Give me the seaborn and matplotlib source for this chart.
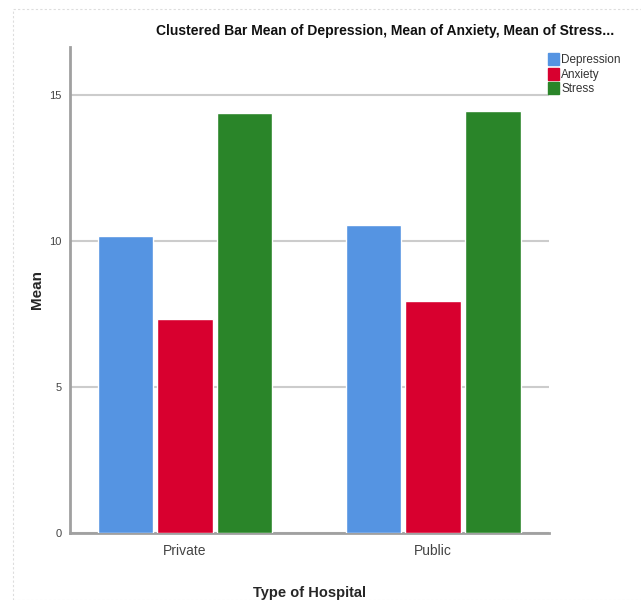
import pandas as pd
import matplotlib.pyplot as plt
import matplotlib.patches as mpatches
import seaborn as sns

# Values
hospitals = ['Private', 'Public']
measures = ['Depression', 'Anxiety', 'Stress']
depression = [10.17, 10.55]
anxiety = [7.32, 7.95]
stress = [14.37, 14.45]
colors = ['#5594E2', '#D8002F', '#2A8529']

df = pd.DataFrame({
    'Type of Hospital': hospitals * 3,
    'Measure': ['Depression'] * 2 + ['Anxiety'] * 2 + ['Stress'] * 2,
    'Mean': depression + anxiety + stress,
})

sns.set_style('white')
plt.rcParams['font.family'] = ['Liberation Sans', 'DejaVu Sans']

fig = plt.figure(figsize=(6.41, 6.0), dpi=100)
ax = fig.add_axes([0.109, 0.1117, 0.747, 0.81])

sns.barplot(data=df, x='Type of Hospital', y='Mean', hue='Measure',
            hue_order=measures, palette=colors, width=0.72, gap=0.07,
            saturation=1, errorbar=None, legend=False, ax=ax, zorder=3)

ax.set_xlim(-0.463, 1.465)
ax.set_ylim(0, 16.64)
ax.set_yticks([0, 5, 10, 15])
ax.yaxis.grid(True, color='#cccccc', linewidth=1.5, zorder=0)
ax.set_axisbelow(True)
for side in ['top', 'right']:
    ax.spines[side].set_visible(False)
for side in ['left', 'bottom']:
    ax.spines[side].set_color('#a0a0a0')
    ax.spines[side].set_linewidth(2)
ax.tick_params(axis='both', length=0, colors='#444444')
ax.tick_params(axis='y', labelsize=8, pad=6)
ax.tick_params(axis='x', labelsize=10, pad=8)

ax.set_xlabel('Type of Hospital', fontsize=10.5, fontweight='bold', labelpad=20)
ax.set_ylabel('Mean', fontsize=11, fontweight='bold', labelpad=4)

fig.text(0.601, 0.949, 'Clustered Bar Mean of Depression, Mean of Anxiety, Mean of Stress...',
         ha='center', va='center', fontsize=10, fontweight='bold', color='#111111')

handles = [mpatches.Patch(color=c, label=m) for c, m in zip(colors, measures)]
fig.legend(handles=handles, loc='upper left', bbox_to_anchor=(0.848, 0.92),
           frameon=False, fontsize=8.5, handlelength=0.9, handleheight=1.2,
           handletextpad=0.2, labelspacing=0.15, borderaxespad=0,
           labelcolor='#333333')

# dashed outline around the chart
fig.patches.append(mpatches.Rectangle((0.021, 0.0), 0.99, 0.985, transform=fig.transFigure,
                                      fill=False, edgecolor='#dddddd', linewidth=0.8,
                                      linestyle=(0, (2, 2))))

fig.savefig('out.png', dpi=100)
